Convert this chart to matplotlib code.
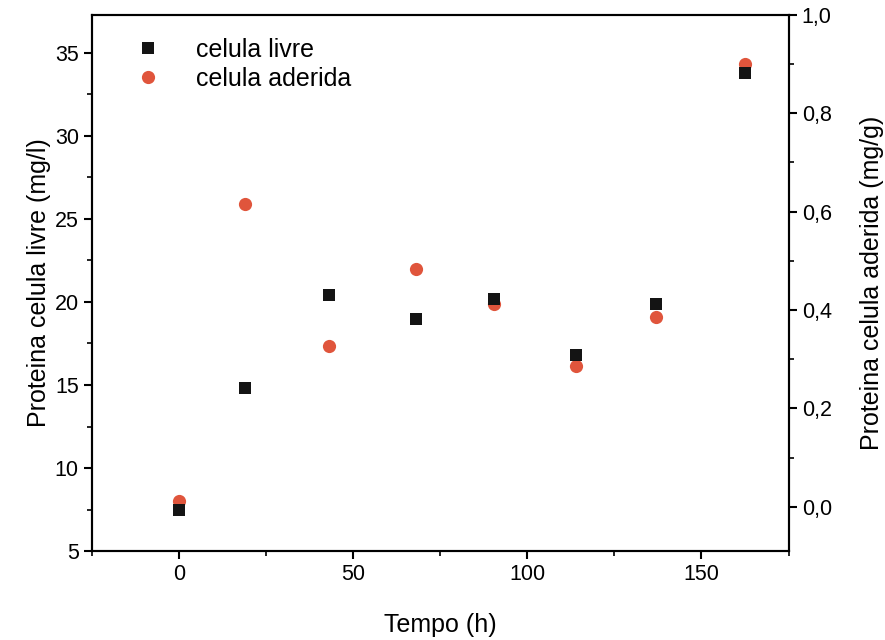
import matplotlib
matplotlib.use("Agg")
import matplotlib.pyplot as plt
from matplotlib.ticker import MultipleLocator, FuncFormatter

# data
tempo = [0, 19, 43, 68, 90.5, 114, 137, 162.5]
livre = [7.5, 14.8, 20.4, 19.0, 20.2, 16.8, 19.9, 33.8]
aderida = [0.012, 0.615, 0.327, 0.484, 0.412, 0.286, 0.386, 0.90]

plt.rcParams['font.family'] = ['Liberation Sans', 'DejaVu Sans']

fig = plt.figure(figsize=(8.85, 6.4), dpi=100)
ax = fig.add_axes([0.104, 0.139, 0.787, 0.838])
ax2 = ax.twinx()

h2, = ax2.plot(tempo, aderida, 'o', color='#e0553c', markersize=9.5,
               markeredgewidth=0, label='celula aderida')
h1, = ax.plot(tempo, livre, 's', color='#141414', markersize=8,
              markeredgewidth=0, label='celula livre')
ax.set_zorder(ax2.get_zorder() + 1)
ax.patch.set_visible(False)

ax.set_xlim(-25, 175)
ax.set_ylim(5, 37.3)
ax2.set_ylim(-0.09, 1.0)

ax.xaxis.set_major_locator(MultipleLocator(50))
ax.xaxis.set_minor_locator(MultipleLocator(25))
ax.yaxis.set_major_locator(MultipleLocator(5))
ax.yaxis.set_minor_locator(MultipleLocator(2.5))
ax2.yaxis.set_major_locator(MultipleLocator(0.2))
ax2.yaxis.set_minor_locator(MultipleLocator(0.1))
ax2.yaxis.set_major_formatter(FuncFormatter(lambda v, p: f"{v:.1f}".replace('.', ',')))

for a in (ax, ax2):
    for s in a.spines.values():
        s.set_linewidth(1.5)
    a.tick_params(which='major', direction='out', length=6, width=1.5, labelsize=15.5)
    a.tick_params(which='minor', direction='out', length=3.5, width=1.2)
ax.tick_params(axis='x', top=False, which='both')
ax.tick_params(axis='y', right=False, which='both')

ax.set_xlabel("Tempo (h)", fontsize=18, labelpad=20)
ax.set_ylabel("Proteina celula livre (mg/l)", fontsize=18, labelpad=3)
ax2.set_ylabel("Proteina celula aderida (mg/g)", fontsize=18, labelpad=20)

ax.legend(handles=[h1, h2], loc='upper left', frameon=False, fontsize=18,
          handletextpad=0.9, borderaxespad=0.2, labelspacing=0.2,
          bbox_to_anchor=(0.023, 0.985))

fig.savefig("out.png", dpi=100)
